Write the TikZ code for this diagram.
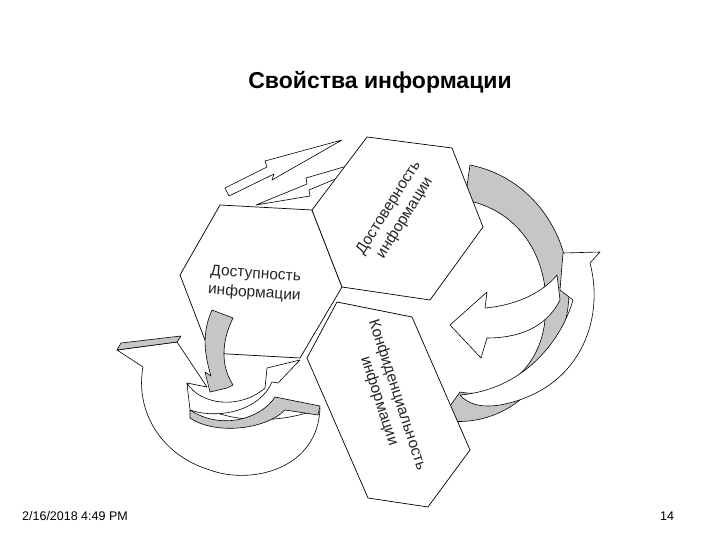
\documentclass[tikz,border=0pt]{standalone}
\usepackage{fontspec}
\setmainfont{Liberation Sans}
\begin{document}
\begin{tikzpicture}[x=1pt,y=-1pt,line join=round,
  hexa/.style={draw=black,fill=white,line width=0.7pt},
  wht/.style={draw=black,fill=white,line width=0.6pt},
  gry/.style={draw=black,fill=gray!45,line width=0.6pt},
  lbl/.style={font=\fontsize{15.5}{19}\selectfont,align=center,text=black!85}]
\useasboundingbox (0,0) rectangle (720,540);
\node (title) at (380,82) {\fontsize{23}{26}\selectfont\bfseries Свойства информации};
% lightning arrows
\draw[wht] (225,188) -- (267,167) -- (265,161) -- (342,140) -- (272,180) -- (274,174) -- (229,196) -- cycle;
\draw[wht] (256,205) -- (307,184) -- (306,178) -- (347,166) -- (345,175) -- (309,190) -- (310,196) -- cycle;
% right gray arrow
\draw[gry] (470,165) .. controls (545,180) and (585,260) .. (563,330)
  .. controls (548,390) and (500,430) .. (440,420)
  -- (460,392) .. controls (500,400) and (540,370) .. (545,320)
  .. controls (552,260) and (520,210) .. (465,200) -- cycle;
% right white arrow: band with head top-right
\draw[wht] (560,290) -- (563,253) -- (600,252) -- (590,263)
  .. controls (605,320) and (580,390) .. (500,405)
  .. controls (480,408) and (468,404) .. (460,395)
  .. controls (520,390) and (560,345) .. (573,300) -- cycle;
% right white arrow: head left
\draw[wht] (450,325) -- (487,292) -- (485,308)
  .. controls (520,305) and (545,290) .. (557,275)
  -- (560,300) .. controls (545,330) and (515,338) .. (487,338)
  -- (481,358) -- cycle;
% hexagons
\path[hexa] (220,205) -- (312,210) -- (342,287) -- (300,358) -- (210,353) -- (180,275) -- cycle;
\path[hexa] (367,137) -- (452,148) -- (483,227) -- (430,300) -- (342,287) -- (312,210) -- cycle;
% left big white arrow
\draw[wht] (117,350) -- (177,342) -- (207,387) -- (187,383)
  .. controls (190,420) and (270,430) .. (320,408)
  .. controls (318,470) and (250,485) .. (210,470)
  .. controls (160,455) and (135,410) .. (143,367) -- cycle;
\draw[gry] (117,350) -- (177,342) -- (181,336) -- (121,343) -- cycle;
% gray left arrow
\draw[gry] (212,310) -- (233,318)
  .. controls (222,340) and (220,365) .. (233,385)
  -- (227,388) -- (210,392) -- (205,372) -- (211,376)
  .. controls (203,350) and (203,330) .. (212,310) -- cycle;
% gray strip and small white arrow
\draw[gry] (190,410) .. controls (220,430) and (260,420) .. (275,397) -- (320,406) -- (318,415) -- (285,410)
  .. controls (265,430) and (215,435) .. (190,418) -- cycle;
\draw[wht] (187,383) .. controls (200,405) and (240,410) .. (265,388)
  -- (267,368) -- (300,360) -- (278,383) -- (272,382)
  .. controls (260,410) and (220,420) .. (190,410) -- cycle;
% third hexagon
\path[hexa] (337,302) -- (412,317) -- (470,450) -- (428,507) -- (368,498) -- (307,358) -- cycle;
% labels
\node[lbl,rotate=-4] (t1) at (255,284) {Доступность\\информации};
\node[lbl,rotate=58] (t2) at (397,213) {Достоверность\\информации};
\node[lbl,rotate=-72] (t3) at (388,398) {Конфиденциальность\\информации};
\node (date) at (75,516) {\fontsize{12.5}{14}\selectfont 2/16/2018 4:49 PM};
\node (num) at (667,516) {\fontsize{12.5}{14}\selectfont 14};
\end{tikzpicture}
\end{document}
